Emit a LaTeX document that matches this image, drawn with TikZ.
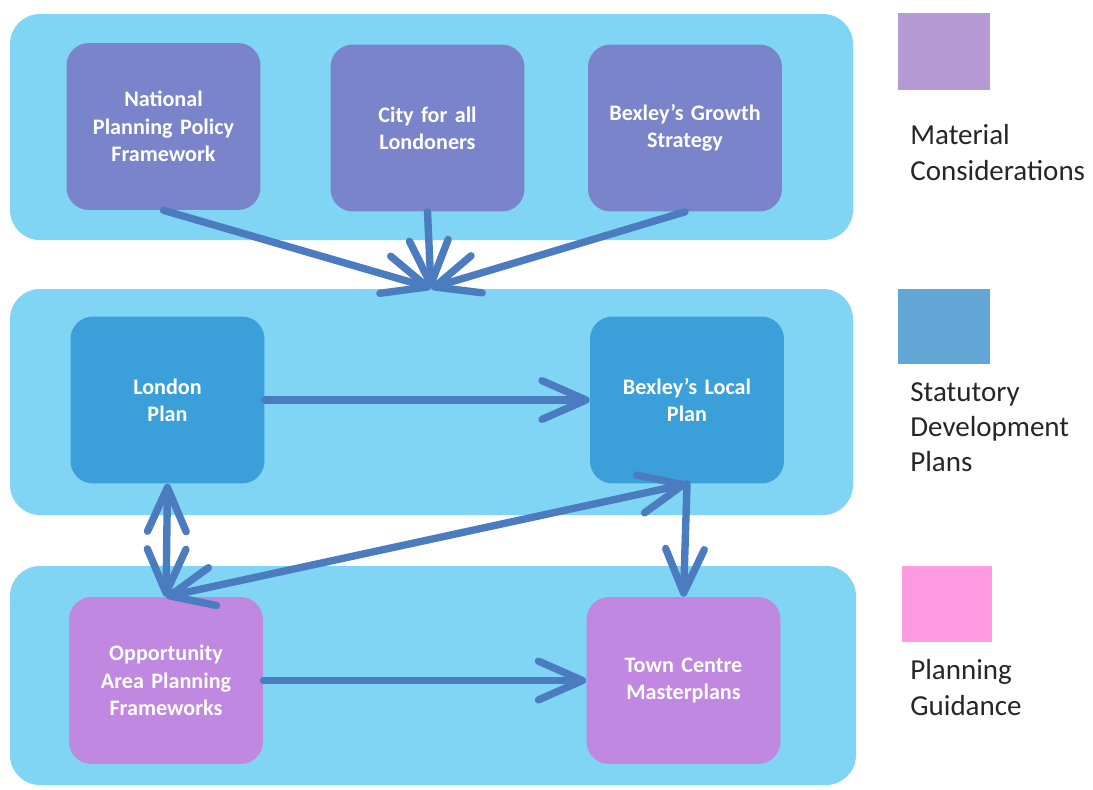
\documentclass[tikz,border=0pt]{standalone}
\usepackage{fontspec}
\setmainfont{Carlito}
\usetikzlibrary{positioning, arrows.meta}
\definecolor{bandblue}{HTML}{80D4F4}
\definecolor{mcpurple}{HTML}{7A84CB}
\definecolor{sdpblue}{HTML}{3BA0DA}
\definecolor{pglilac}{HTML}{C088E0}
\definecolor{arrowblue}{HTML}{4C7CC0}
\definecolor{keymc}{HTML}{B59AD4}
\definecolor{keysdp}{HTML}{62A6D6}
\definecolor{keypg}{HTML}{FF99E2}

\begin{document}
\begin{tikzpicture}[x=0.02cm, y=-0.02cm,
        band/.style={fill=bandblue, rounded corners=0.6cm},
        docbox/.style={rounded corners=0.45cm, minimum width=3.88cm,
                       minimum height=3.34cm, text width=3.6cm, align=center,
                       text=white, font=\bfseries\fontsize{12.6}{15.5}\selectfont},
        link/.style={draw=arrowblue, line width=4.2pt, line cap=round,
                     -{Straight Barb[length=25pt, width=22pt, round]}},
        biglink/.style={link, {Straight Barb[length=25pt, width=22pt, round]}-{Straight Barb[length=25pt, width=22pt, round]}},
        keylabel/.style={anchor=west, align=left, inner sep=0pt,
                         text=black!85, font=\fontsize{16.5}{20}\selectfont},
      ]
      \useasboundingbox (0,0) rectangle (1093,789);

      % bands
      \fill[band] (10,14) rectangle (853,240);
      \fill[band] (10,289) rectangle (853,515);
      \fill[band] (10,566) rectangle (856,785);

      % material considerations
      \node[docbox, fill=mcpurple] (nppf) at (163.5,126.5)
        {National\\Planning Policy\\Framework};
      \node[docbox, fill=mcpurple] (city) at (427.5,128)
        {City for all\\Londoners};
      \node[docbox, fill=mcpurple] (growth) at (685,128)
        {Bexley’s Growth\\Strategy};

      % statutory development plans
      \node[docbox, fill=sdpblue] (london) at (167.5,400) {London\\Plan};
      \node[docbox, fill=sdpblue] (local) at (687,400) {Bexley’s Local\\Plan};

      % planning guidance
      \node[docbox, fill=pglilac] (oapf) at (166,680.5)
        {Opportunity\\Area Planning\\Frameworks};
      \node[docbox, fill=pglilac] (town) at (683.5,680.5)
        {Town Centre\\Masterplans};

      \coordinate (hub) at (431,288);

      \draw[link] (nppf.south) -- (hub);
      \draw[link] (city.south) -- (hub);
      \draw[link] (growth.south) -- (hub);
      \draw[link] (london.east) -- (local.west);
      \draw[biglink] (london.south) -- (oapf.north);
      \draw[biglink] (local.south) -- (oapf.north);
      \draw[link] (local.south) -- (town.north);
      \draw[link] (oapf.east) -- (town.west);

      % key
      \fill[keymc] (898,13) rectangle (990,90);
      \fill[keysdp] (898,289) rectangle (990,364);
      \fill[keypg] (902,566) rectangle (992,642);
      \node[keylabel] (keymctext) at (910,152.5) {Material\\Considerations};
      \node[keylabel] (keysdptext) at (910,427) {Statutory\\Development\\Plans};
      \node[keylabel] (keypgtext) at (910,687.5) {Planning\\Guidance};
    \end{tikzpicture}
\end{document}
